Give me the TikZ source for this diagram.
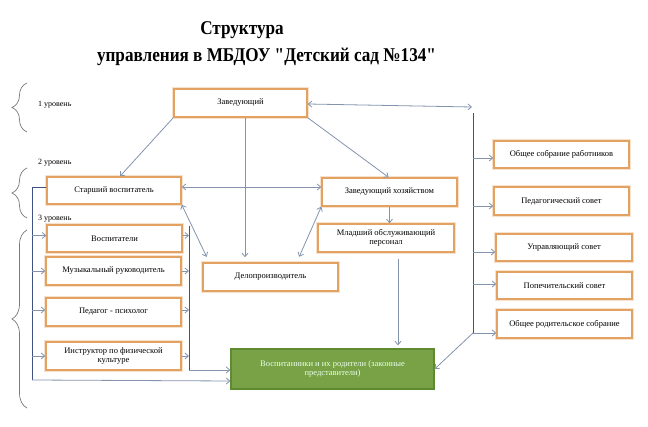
\documentclass[tikz,border=0pt]{standalone}
\usepackage{fontspec}
\setmainfont{Liberation Serif}[Ligatures=TeXOff]
\newfontfamily\titlefont{Liberation Serif}[Ligatures=TeXOff,FakeStretch=0.88]
\usetikzlibrary{arrows.meta,decorations.pathreplacing,calc}
\definecolor{boxline}{HTML}{E2A263}
\definecolor{boxhalo}{HTML}{F8E2CC}
\definecolor{arrcol}{HTML}{8494AE}
\definecolor{buscol}{HTML}{3E5382}
\definecolor{greenfill}{HTML}{78A245}
\definecolor{greenline}{HTML}{5E8A31}
\definecolor{bracecol}{HTML}{7A7A7A}
\begin{document}
\begin{tikzpicture}[x=1pt,y=-1pt,
  ubox/.style={draw=boxline,line width=1.5pt,fill=white,
    preaction={draw=boxhalo,line width=4pt},
    minimum width=135pt,minimum height=28pt,inner sep=1pt,
    font=\fontsize{8.5}{9}\selectfont,align=center},
  gbox/.style={draw=greenline,line width=1.3pt,fill=greenfill,
    minimum width=203pt,minimum height=40pt,inner sep=1pt,text=white!92!green,
    font=\fontsize{8.5}{9.5}\selectfont,align=center},
  arr/.style={draw=arrcol,line width=0.8pt,-{Straight Barb[length=3.5pt,width=6pt]}},
  darr/.style={draw=arrcol,line width=0.8pt,{Straight Barb[length=3.5pt,width=6pt]}-{Straight Barb[length=3.5pt,width=6pt]}},
  bus/.style={draw=buscol,line width=0.9pt},
  lvl/.style={anchor=west,font=\fontsize{8}{9}\selectfont,inner sep=0pt},
  brc/.style={draw=bracecol,line width=0.7pt,decorate,decoration={brace,amplitude=15pt}},
  ttl/.style={anchor=base,font=\titlefont\bfseries\fontsize{19.5}{21}\selectfont,inner sep=0pt}
]
\useasboundingbox (0,0) rectangle (648,427);
\fill[white] (0,0) rectangle (648,427);

% title
\node[ttl] (t1) at (242,35) {Структура};
\node[ttl] (t2) at (266.5,62) {управления в МБДОУ "Детский сад №134"};

% level braces and labels
\draw[brc] (27,132) -- (27,83);
\draw[brc] (27,218) -- (27,168);
\draw[brc] (27,408) -- (27,230);
\node[lvl] (l1) at (38,105) {1 уровень};
\node[lvl] (l2) at (38,163) {2 уровень};
\node[lvl] (l3) at (38,219) {3 уровень};

% boxes
\node[ubox,minimum width=133pt] (zav) at (240.5,103) {Заведующий};
\node[ubox,minimum height=27pt,minimum width=134pt] (starsh) at (114,190.5) {Старший воспитатель};
\node[ubox] (zavh) at (389.5,192) {Заведующий хозяйством};
\node[ubox,minimum height=27pt] (osr) at (561.5,154.5) {Общее собрание работников};
\node[ubox] (ped) at (561.5,201) {Педагогический совет};
\node[ubox,minimum width=136pt] (mlad) at (386,238) {Младший обслуживающий\\персонал};
\node[ubox] (delo) at (270.5,277) {Делопроизводитель};
\node[ubox,minimum height=27pt,minimum width=136pt] (upr) at (564,247.5) {Управляющий совет};
\node[ubox,minimum height=27pt] (pop) at (564.5,285.5) {Попечительский совет};
\node[ubox] (orod) at (564.5,324) {Общее родительское собрание};
\node[ubox,minimum height=27pt] (vosp) at (114.5,238.5) {Воспитатели};
\node[ubox] (muz) at (113.5,271) {Музыкальный руководитель};
\node[ubox] (psy) at (113.5,312) {Педагог - психолог};
\node[ubox] (instr) at (113.5,356) {Инструктор по физической\\культуре};
\node[gbox] (kids) at (332.5,369) {Воспитанники и их родители (законные\\представители)};

% bus coordinates
\coordinate (rtop) at (472,107);
\coordinate (r1) at (473,113);
\coordinate (r2) at (473,333);
\coordinate (lb) at (32,380);
\coordinate (mb1) at (189,226);
\coordinate (mb2) at (189,370);

% top connectors
\draw[arr] (zav.south west) -- ([xshift=6pt]starsh.north);
\draw[arr] (zav.south east) -- ([xshift=-1pt]zavh.north);
\draw[arr,shorten >=5pt] ([xshift=4.5pt]zav.south) -- ([xshift=4.5pt]zav.south |- delo.north);
\draw[darr] ([yshift=-1pt]zav.east) -- (rtop);
\draw[darr] ([yshift=3.5pt]starsh.east) -- ([yshift=3.5pt]starsh.east -| zavh.west);
\draw[darr,shorten >=6pt] (starsh.south east) -- ([xshift=7pt]delo.north west);
\draw[darr,shorten >=6pt] (zavh.south west) -- ([xshift=-42pt]delo.north east);
\draw[arr] (zavh.south) -- (zavh.south |- mlad.north);
\draw[arr,shorten >=3pt] ([xshift=12pt,yshift=-6pt]mlad.south) -- ([xshift=12pt]mlad.south |- kids.north);

% right bus
\draw[bus] (r1) -- (r2);
\draw[arr] (r2) -- (kids.east);
\draw[arr] ([yshift=-3.5pt]r1 |- osr.west) -- ([yshift=-3.5pt]osr.west);
\draw[arr] ([yshift=-5pt]r1 |- ped.west) -- ([yshift=-5pt]ped.west);
\draw[arr] ([yshift=-4.5pt]r1 |- upr.west) -- ([yshift=-4.5pt]upr.west);
\draw[arr] ([yshift=1.5pt]r1 |- pop.west) -- ([yshift=1.5pt]pop.west);
\draw[arr] (r2) -- (r2 -| orod.west);

% left bus
\draw[bus] ([yshift=3.5pt]starsh.west) -| (lb);
\draw[arr] (lb) -- ([yshift=-12pt]kids.west);
\draw[arr] ([yshift=3pt]lb |- vosp.west) -- ([yshift=3pt]vosp.west);
\draw[arr] (lb |- muz.west) -- (muz.west);
\draw[arr] ([yshift=2pt]lb |- psy.west) -- ([yshift=2pt]psy.west);
\draw[arr] (lb |- instr.west) -- (instr.west);

% middle bus
\draw[bus] (mb1) -- (mb2);
\draw[arr] (mb2) -- (mb2 -| kids.west);
\draw[arr] ([yshift=3pt]vosp.east) -- ([yshift=3pt]mb1 |- vosp.east);
\draw[arr] (muz.east) -- (mb1 |- muz.east);
\draw[arr] ([yshift=2pt]psy.east) -- ([yshift=2pt]mb1 |- psy.east);
\draw[arr] (instr.east) -- (mb1 |- instr.east);
\end{tikzpicture}
\end{document}
